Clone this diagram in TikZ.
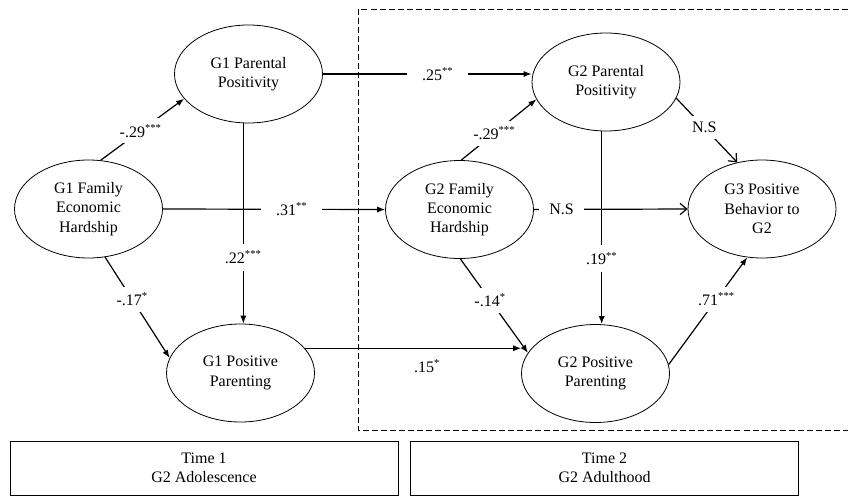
\documentclass[tikz,border=0pt]{standalone}
\usepackage{fontspec}
\setmainfont{Liberation Serif}
\usetikzlibrary{shapes.geometric,arrows.meta}
\tikzset{
  latent/.style={ellipse,draw,line width=0.6pt,inner sep=0pt,minimum width=111pt,minimum height=73.5pt,align=center,font=\fontsize{12}{14.5}\selectfont},
  path/.style={line width=0.9pt,-{Latex[length=6pt,width=4.6pt]}},
  nspath/.style={line width=0.9pt,-{Straight Barb[length=5pt,width=8.5pt]}},
  coef/.style={fill=white,inner sep=4.5pt,font=\fontsize{12}{14.5}\selectfont},
  hcoef/.style={coef,inner xsep=11pt},
  vcoef/.style={coef,inner ysep=5.5pt},
  timebox/.style={draw,line width=0.6pt,minimum width=291pt,minimum height=40.5pt,align=center,font=\fontsize{12}{14.5}\selectfont},
  periodline/.style={line width=0.6pt,dash pattern=on 4.5pt off 2.3pt}
}
\newcommand{\sig}[1]{\textsuperscript{#1}}
\begin{document}
\begin{tikzpicture}[x=0.75pt,y=-0.75pt]
\useasboundingbox (0,0) rectangle (848,496);
% period frame
\draw[periodline] (848,9) -- (358,9) -- (358,430) -- (848,430);
% latent variables
\node[latent] (g1pp) at (248.5,74) {G1 Parental\\Positivity};
\node[latent] (g1feh) at (88.5,209) {G1 Family\\Economic\\Hardship};
\node[latent] (g1pos) at (240.5,373) {G1 Positive\\Parenting};
\node[latent] (g2pp) at (606,82) {G2 Parental\\Positivity};
\node[latent] (g2feh) at (459.5,209.5) {G2 Family\\Economic\\Hardship};
\node[latent] (g3) at (762,209) {G3 Positive\\Behavior to\\G2};
\node[latent] (g2pos) at (595.5,373.5) {G2 Positive\\Parenting};
% time boxes
\node[timebox] (t1) at (204,468) {Time 1\\G2 Adolescence};
\node[timebox] (t2) at (604.5,468) {Time 2\\G2 Adulthood};
% paths
\draw[path] (g1feh.76) -- node[coef,pos=0.48] {-.29\sig{***}} (g1pp.201);
\draw[path] (g1pp.east) -- node[hcoef,pos=0.55] {.25\sig{**}} (g1pp.east -| g2pp.west);
\draw[path] (g1feh.east) -- node[hcoef,pos=0.58] {.31\sig{**}} (g2feh.west);
\draw[path] (g1pp.264) -- node[vcoef,pos=0.67] {.22\sig{***}} (g1pp.264 |- g1pos.north);
\draw[path] (g1feh.289) -- node[coef,pos=0.42] {-.17\sig{*}} (g1pos.168);
\draw[path] (g1pos.21) -- node[pos=0.565,yshift=-13.5pt,font=\fontsize{12}{14.5}\selectfont] {.15\sig{*}} (g1pos.21 -| g2pos.west);
\draw[path] (g2feh.88) -- node[coef,pos=0.44] {-.29\sig{***}} (g2pp.194);
\draw[nspath] (g2feh.east) -- node[hcoef,inner xsep=8pt,pos=0.18] {N.S} (g3.west);
\draw[path] (g2pp.265) -- node[vcoef,pos=0.66] {.19\sig{**}} (g2pp.265 |- g2pos.north);
\draw[nspath] (g2pp.347) -- node[coef,pos=0.46] {N.S} (g3.118);
\draw[path] (g2feh.271) -- node[coef,pos=0.44] {-.14\sig{*}} (g2pos.163);
\draw[path] (g2pos.7) -- node[coef,pos=0.61] {.71\sig{***}} (g3.253);
\end{tikzpicture}
\end{document}
